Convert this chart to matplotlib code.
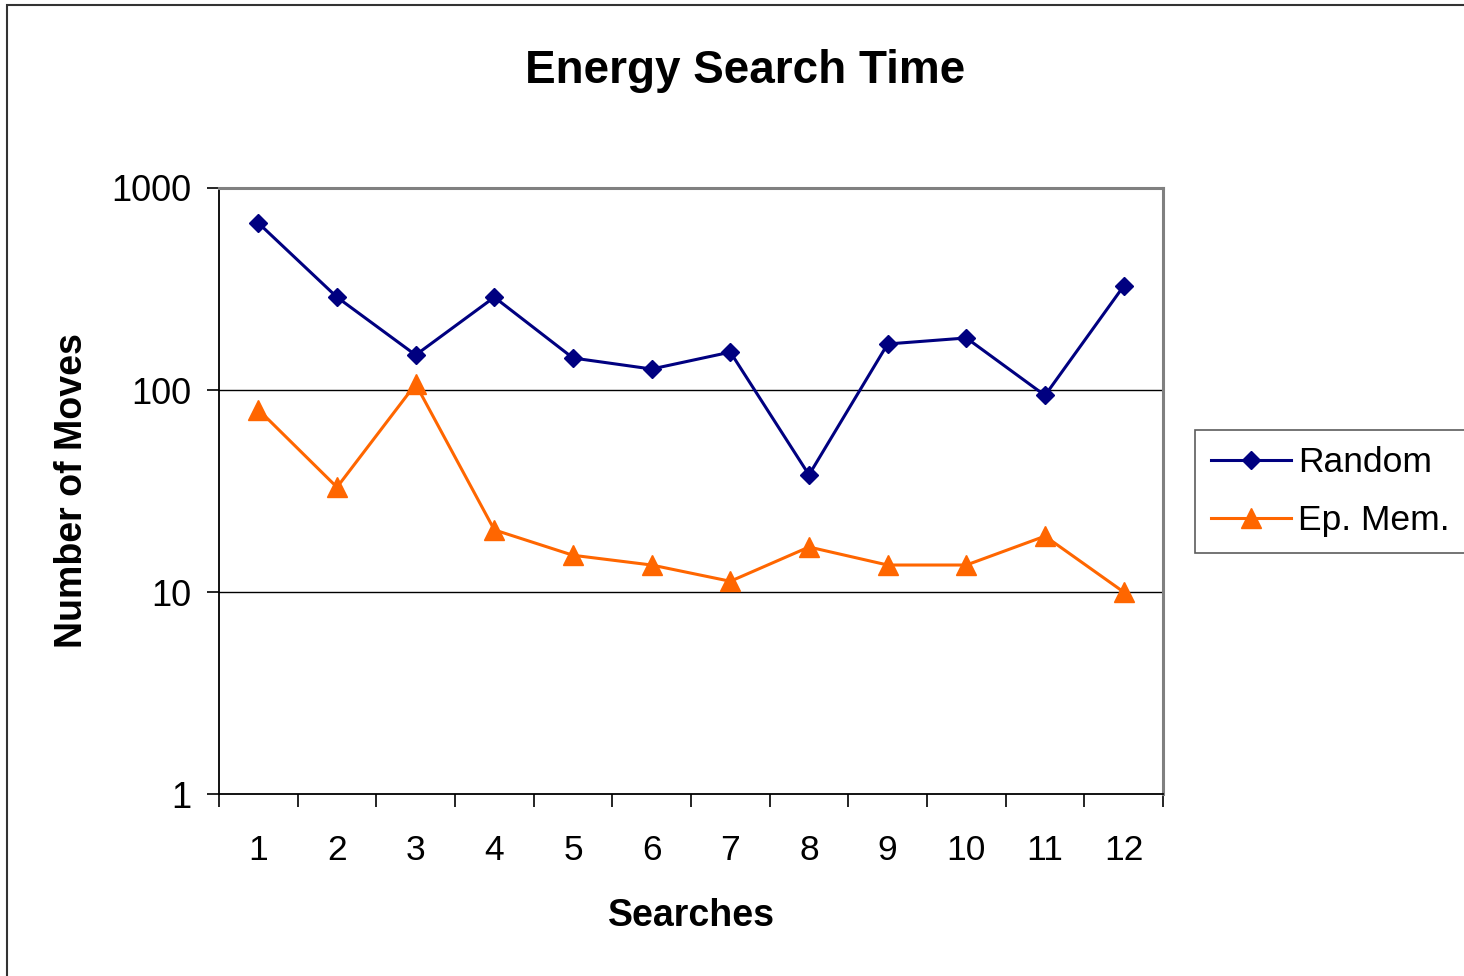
import matplotlib
matplotlib.use("Agg")
import matplotlib.pyplot as plt
from matplotlib.patches import Rectangle
import numpy as np

searches = [1, 2, 3, 4, 5, 6, 7, 8, 9, 10, 11, 12]
random_moves = [671, 288, 149, 288, 144, 127, 154, 38, 169, 181, 94, 327]
epmem_moves = [80, 33, 107, 20.3, 15.2, 13.6, 11.3, 16.7, 13.6, 13.6, 18.9, 10]
ytick_vals = [1, 10, 100, 1000]
ytick_labels = ["1", "10", "100", "1000"]

plt.rcParams['font.family'] = ['Liberation Sans', 'DejaVu Sans']

fig = plt.figure(figsize=(14.64, 9.76), dpi=100)
W, H = 1464, 976
ax = fig.add_axes([219 / W, 1 - 794 / H, (1163 - 219) / W, (794 - 188) / H])

ax.plot(searches, random_moves, color='#000080', lw=2.2, marker='D', markersize=9.5,
        label='Random', zorder=3)
ax.plot(searches, epmem_moves, color='#FF6600', lw=2.2, marker='^', markersize=14,
        label='Ep. Mem.', zorder=3)

ax.set_yscale('log')
ax.set_ylim(1, 1000)
ax.set_xlim(0.5, 12.5)
ax.set_yticks(ytick_vals)
ax.set_yticklabels(ytick_labels)
ax.yaxis.set_minor_locator(matplotlib.ticker.NullLocator())
ax.set_xticks(np.arange(0.5, 13, 1.0))
ax.set_xticklabels([])
ax.set_xticks(searches, minor=True)
ax.set_xticklabels([str(s) for s in searches], minor=True)
ax.tick_params(axis='x', which='minor', length=0, labelsize=25.5, pad=29)
ax.tick_params(axis='x', which='major', length=9, width=1.2, direction='out', color='black')
ax.tick_params(axis='y', which='major', length=9, width=1.2, direction='out', labelsize=26, pad=11)

for v in [10, 100]:
    ax.axhline(v, color='black', lw=1.0, zorder=1)

ax.spines['left'].set_color('black')
ax.spines['bottom'].set_color('black')
ax.spines['left'].set_linewidth(1.3)
ax.spines['bottom'].set_linewidth(1.3)
ax.spines['top'].set_color('#808080')
ax.spines['right'].set_color('#808080')
ax.spines['top'].set_linewidth(2.2)
ax.spines['right'].set_linewidth(2.2)

ax.set_xlabel('Searches', fontsize=27, fontweight='bold', labelpad=22)
ax.set_ylabel('Number of Moves', fontsize=27, fontweight='bold', labelpad=15)
fig.text(745 / W, 1 - 71 / H, 'Energy Search Time', fontsize=33, fontweight='bold',
         ha='center', va='center')

leg = ax.legend(loc='upper left', bbox_to_anchor=(1195 / W, 1 - 430 / H),
                bbox_transform=fig.transFigure, fontsize=25.5, frameon=True,
                fancybox=False, edgecolor='#333333', handlelength=2.25,
                borderpad=0.45, labelspacing=0.72, handletextpad=0.2,
                borderaxespad=0)
leg.get_frame().set_linewidth(1.2)

fig.patches.append(Rectangle((7 / W, -0.05), 1.2, 1.05 - 5 / H, transform=fig.transFigure,
                             fill=False, edgecolor='#333333', lw=1.5))

fig.savefig('out.png', dpi=100)
